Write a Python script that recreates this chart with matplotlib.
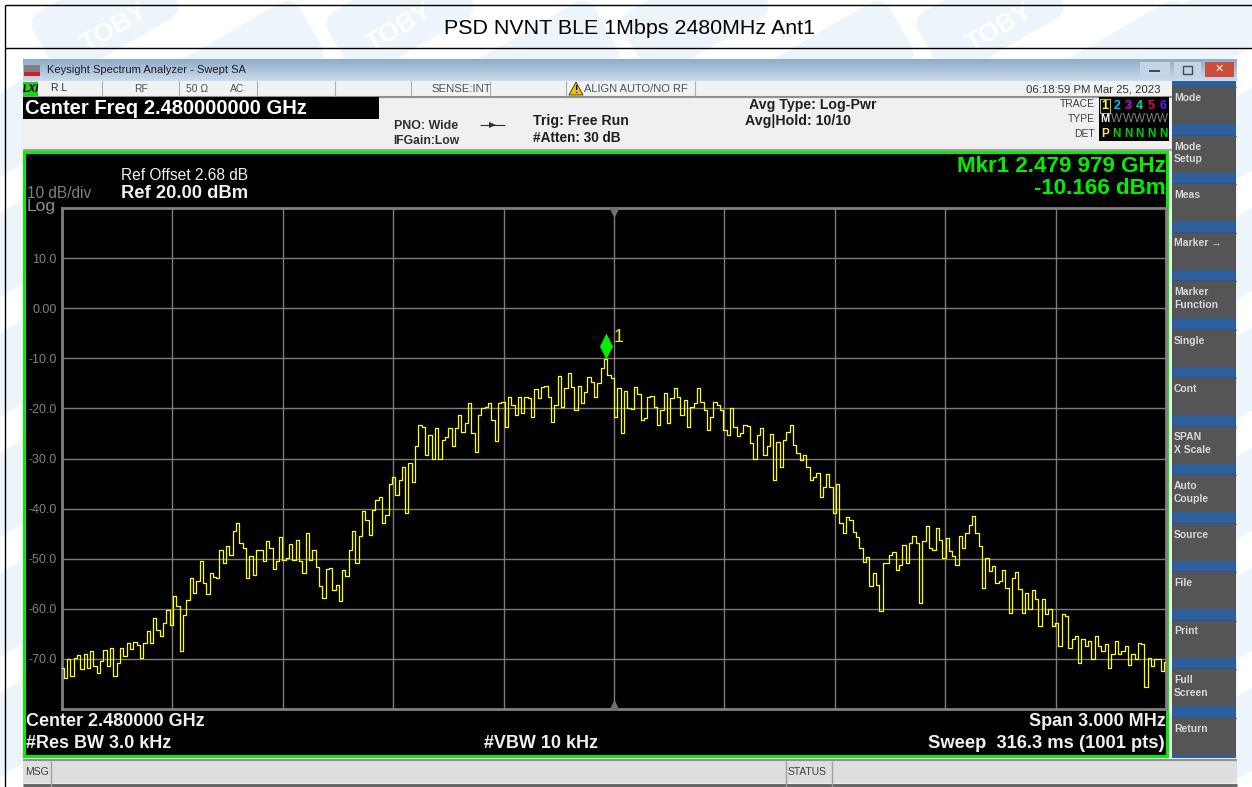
#! /usr/bin/env python3
# Spectrum analyzer screenshot: PSD of BLE 1Mbps at 2480 MHz
import matplotlib
matplotlib.use('Agg')
import matplotlib.pyplot as plt
from matplotlib.patches import Rectangle, Polygon, FancyBboxPatch
from matplotlib.path import Path
from matplotlib.transforms import Affine2D
import numpy as np

plt.rcParams['font.family'] = ['Liberation Sans', 'DejaVu Sans']

chart_title = 'PSD NVNT BLE 1Mbps 2480MHz Ant1'

center_ghz = 2.48
span_ghz = 0.003
ref_level = 20.0
db_per_div = 10.0
y_tick_labels = ['10.0', '0.00', '-10.0', '-20.0', '-30.0', '-40.0', '-50.0', '-60.0', '-70.0']
marker_ghz = 2.479979
marker_dbm = -10.166

# trace, about every third sweep point
trace_dbm = [
    -71.8, -73.8, -70.0, -73.5, -69.8, -69.2, -72.1, -69.1, -71.8, -68.5,
    -71.5, -72.8, -70.5, -68.3, -71.5, -67.8, -73.5, -70.8, -67.8, -69.5,
    -66.9, -68.1, -66.6, -67.3, -69.8, -66.8, -64.5, -66.8, -61.8, -64.2,
    -65.5, -62.8, -60.2, -63.2, -57.5, -59.5, -68.5, -61.2, -58.2, -53.8,
    -56.8, -54.5, -50.5, -54.8, -57.0, -52.8, -53.6, -53.8, -48.2, -50.8,
    -47.4, -49.2, -44.5, -42.9, -46.9, -47.9, -53.8, -49.5, -53.2, -48.2,
    -48.3, -50.5, -46.5, -47.9, -52.0, -50.5, -45.7, -50.2, -49.8, -47.0,
    -50.2, -46.3, -50.5, -52.8, -44.9, -50.2, -48.2, -51.6, -55.5, -57.8,
    -52.0, -51.8, -56.2, -55.2, -58.5, -52.3, -53.5, -48.2, -44.5, -50.8,
    -45.5, -40.5, -42.2, -45.2, -40.2, -38.3, -37.6, -42.9, -41.3, -35.0,
    -33.6, -37.3, -34.3, -31.6, -40.9, -30.8, -34.6, -27.6, -23.3, -23.7,
    -29.3, -25.3, -30.0, -24.0, -30.0, -26.4, -25.8, -24.0, -27.5, -24.0,
    -21.3, -24.7, -23.0, -19.0, -25.0, -28.8, -21.3, -20.0, -19.7, -19.0,
    -22.3, -26.6, -19.0, -18.7, -23.7, -17.7, -19.3, -21.3, -17.7, -21.0,
    -17.7, -18.0, -21.7, -16.1, -18.0, -15.7, -15.5, -17.7, -22.7, -19.3,
    -13.6, -19.7, -16.0, -13.0, -15.7, -20.3, -15.5, -19.0, -16.7, -13.8,
    -14.7, -17.8, -15.0, -12.0, -10.2, -13.4, -14.0, -21.7, -16.0, -25.0,
    -16.5, -20.0, -20.2, -15.7, -17.1, -22.3, -22.0, -17.8, -17.5, -19.8,
    -23.3, -20.3, -16.9, -23.0, -18.0, -16.0, -17.7, -21.3, -18.3, -23.7,
    -19.7, -19.0, -16.0, -18.7, -20.3, -24.3, -21.7, -18.7, -19.3, -20.3,
    -24.3, -25.3, -20.0, -23.7, -25.6, -25.0, -23.3, -23.5, -27.0, -30.0,
    -25.3, -24.0, -29.3, -27.6, -25.1, -34.3, -26.8, -31.6, -26.3, -24.7,
    -23.3, -27.3, -29.0, -30.3, -29.3, -31.6, -34.3, -33.6, -32.8, -37.6,
    -35.6, -33.0, -35.6, -40.9, -35.0, -42.9, -44.9, -41.6, -42.3, -44.6,
    -45.6, -47.9, -50.6, -49.7, -55.5, -52.9, -55.2, -60.5, -50.9, -50.9,
    -49.2, -48.7, -52.2, -51.2, -47.2, -50.8, -46.8, -45.5, -46.8, -58.8,
    -46.5, -43.5, -47.8, -48.2, -43.9, -46.2, -49.8, -45.8, -48.5, -49.5,
    -51.2, -45.5, -47.8, -44.9, -43.2, -41.4, -44.9, -47.5, -55.8, -49.8,
    -52.5, -51.5, -54.8, -54.5, -52.3, -55.8, -60.8, -53.8, -52.7, -56.1,
    -60.9, -56.8, -60.1, -56.3, -58.1, -63.5, -58.1, -61.1, -60.1, -63.5,
    -62.8, -67.4, -61.1, -61.5, -67.8, -66.1, -65.4, -70.8, -66.1, -67.4,
    -66.4, -70.1, -65.4, -67.4, -68.4, -67.1, -71.8, -69.1, -66.4, -69.1,
    -68.4, -67.4, -71.3, -69.1, -70.1, -66.9, -67.1, -75.7, -69.8, -71.4,
    -70.0, -70.1, -72.4, -70.6,
]

softkeys = [['Mode'], ['Mode', 'Setup'], ['Meas'], ['Marker \u2192'], ['Marker', 'Function'],
            ['Single'], ['Cont'], ['SPAN', 'X Scale'], ['Auto', 'Couple'], ['Source'],
            ['File'], ['Print'], ['Full', 'Screen'], ['Return']]
trace_digits = ['1', '2', '3', '4', '5', '6']
trace_colors = ['#ffff30', '#00c8f0', '#e000e0', '#00d8a0', '#f00050', '#5a20ff']

fig = plt.figure(figsize=(12.52, 7.87), dpi=100, facecolor='white')

# chrome is drawn in pixel coordinates of the screenshot
bg = fig.add_axes([0, 0, 1, 1], zorder=0)
bg.set_xlim(0, 1252)
bg.set_ylim(787, 0)
bg.axis('off')


def box(x0, y0, x1, y1, color, **kw):
    bg.add_patch(Rectangle((x0, y0), x1 - x0, y1 - y0, facecolor=color, edgecolor='none', **kw))


def hline(y, x0, x1, color='black', lw=1.0):
    bg.plot([x0, x1], [y, y], color=color, lw=lw, solid_capstyle='butt')


def vline(x, y0, y1, color='black', lw=1.0):
    bg.plot([x, x], [y0, y1], color=color, lw=lw, solid_capstyle='butt')


def txt(x, y, s, size=9, color='black', weight='normal', ha='left', **kw):
    bg.text(x, y, s, fontsize=size, color=color, fontweight=weight, ha=ha, va='center', **kw)


# watermark badges behind everything
for wx, wy in [(105, 15), (400, 15), (695, 15), (990, 15), (1235, 15),
               (250, 62), (545, 62), (840, 62), (1135, 62),
               (1250, 130), (1250, 250), (1250, 370), (1250, 490), (1250, 610), (1250, 730),
               (8, 130), (8, 250), (8, 370), (8, 490), (8, 610), (8, 730)]:
    rot = Affine2D().rotate_deg_around(wx, wy, -30) + bg.transData
    bg.add_patch(FancyBboxPatch((wx - 62, wy - 28), 124, 56, boxstyle='round,pad=8,rounding_size=16',
                                fc='#ecf5fb', ec='none', transform=rot, zorder=0.5))
for wx in [115, 400, 1000]:
    bg.text(wx, 28, 'TOBY', fontsize=19, color='white', fontweight='bold', rotation=30,
            ha='center', va='center', zorder=0.6)

# report table lines
hline(5, 5, 1252)
hline(48, 5, 1252)
vline(5, 5, 787)
txt(629, 28, chart_title, size=15.4, ha='center')

# window
box(23, 59, 1237, 787, '#f0f0f0', zorder=1)
grad = np.linspace(0, 1, 22)[:, None]
bg.imshow(grad, extent=(23, 1237, 81, 59), cmap=matplotlib.colors.LinearSegmentedColormap.from_list(
    'bar', ['#8facca', '#cbdbeb']), aspect='auto', zorder=1.1)
bg.set_xlim(0, 1252)
bg.set_ylim(787, 0)
box(24, 65, 40, 75, '#808080', zorder=2)
box(24, 72, 40, 76, '#d02030', zorder=2)
txt(47, 70, 'Keysight Spectrum Analyzer - Swept SA', size=8, color='#202020', zorder=3)
for x0, x1, col in [(1140, 1170, '#c4d4e6'), (1174, 1201, '#c4d4e6'), (1205, 1234, '#c8503c')]:
    box(x0, 62, x1, 77, col, zorder=2)
box(1149, 70, 1160, 72, '#404a58', zorder=3)
bg.add_patch(Rectangle((1183, 66), 9, 8, fc='none', ec='#404a58', lw=1.0, zorder=3))
txt(1219.5, 69, '\u2715', size=8, color='white', weight='bold', ha='center', zorder=3,
    family=['DejaVu Sans'])

# status row
box(23, 81, 1172, 97, '#f2f2f2', zorder=2)
hline(96.5, 23, 1172, '#909090', 1.5)
for sx in [102, 179, 257, 335, 411, 490, 566, 695]:
    vline(sx, 81, 96, '#b0b0b0', 0.8)
box(23, 82, 38, 96, '#20d020', zorder=3)
txt(30.5, 89, 'LXI', size=7.5, weight='bold', ha='center', style='italic', zorder=4)
txt(51, 88, 'R L', size=7.5, color='#303030', zorder=3)
txt(134, 89, 'RF', size=7.5, color='#505050', zorder=3)
txt(186, 89, '50 \u03a9', size=7.5, color='#505050', zorder=3)
txt(230, 89, 'AC', size=7.5, color='#505050', zorder=3)
txt(431, 89, 'SENSE:INT', size=8.2, color='#505050', zorder=3)
bg.add_patch(Polygon([[569, 95], [583, 95], [576, 82]], fc='#f0c000', ec='#403000', lw=0.6, zorder=3))
txt(576, 90, '!', size=7, weight='bold', ha='center', zorder=4)
txt(584, 89, 'ALIGN AUTO/NO RF', size=8, color='#505050', zorder=3)
txt(1161, 89, '06:18:59 PM Mar 25, 2023', size=8.2, color='#303030', ha='right', zorder=3)

# settings panel
box(23, 97, 379, 119, 'black', zorder=2)
txt(25, 108, 'Center Freq 2.480000000 GHz', size=14.5, color='white', weight='bold', zorder=3)
txt(426, 126, 'PNO: Wide', size=8.9, color='#303030', weight='bold', ha='center', zorder=3)
txt(426, 141, 'IFGain:Low', size=8.7, color='#303030', weight='bold', ha='center', zorder=3)
hline(125, 480, 505, '#303030', 0.8)
bg.add_patch(Polygon([[489, 122], [489, 128], [496, 125]], fc='#303030', ec='none', zorder=3))
txt(533, 121, 'Trig: Free Run', size=10.2, color='#202020', weight='bold', zorder=3)
txt(533, 138, '#Atten: 30 dB', size=9.8, color='#202020', weight='bold', zorder=3)
txt(749, 105, 'Avg Type: Log-Pwr', size=10.2, color='#202020', weight='bold', zorder=3)
txt(745, 121, 'Avg|Hold: 10/10', size=10.2, color='#202020', weight='bold', zorder=3)
txt(1095, 104, 'TRACE', size=7.5, color='#404040', ha='right', zorder=3)
txt(1095, 119, 'TYPE', size=7.5, color='#404040', ha='right', zorder=3)
txt(1095, 134, 'DET', size=7.5, color='#404040', ha='right', zorder=3)
box(1099, 97, 1169, 141, 'black', zorder=2)
bg.add_patch(Rectangle((1100, 99), 10, 14, fc='none', ec='#c0c060', lw=0.8, zorder=3))
for k, dig in enumerate(trace_digits):
    dx = 1105 + 11.6 * k
    txt(dx, 106, dig, size=9, color=trace_colors[k], weight='bold', ha='center', zorder=4)
    txt(dx, 119.5, 'M' if k == 0 else 'W', size=8 if k == 0 else 8.5, ha='center',
        weight='bold' if k == 0 else 'normal', color='white' if k == 0 else '#808080', zorder=4)
    txt(dx, 134, 'P' if k == 0 else 'N', size=8.5, weight='bold', ha='center',
        color='#ffe080' if k == 0 else '#00d000', zorder=4)

# screen frame
box(23, 151, 1169, 758, '#00f000', zorder=2)
box(26, 154, 1166, 755, 'black', zorder=2.1)
hline(150, 23, 1172, '#a0a0a0', 1.5)
txt(121, 176, 'Ref Offset 2.68 dB', size=11.2, color='#f0f0f0', zorder=3)
txt(121, 193, 'Ref 20.00 dBm', size=13.2, color='#f0f0f0', weight='bold', zorder=3)
txt(27, 194, '10 dB/div', size=11.2, color='#808080', zorder=3)
txt(27, 207, 'Log', size=12.5, color='#909090', zorder=3)
txt(1166, 166, 'Mkr1 2.479 979 GHz', size=16.1, color='#00f000', weight='bold', ha='right', zorder=3)
txt(1166, 188, '-10.166 dBm', size=16.1, color='#00f000', weight='bold', ha='right', zorder=3)
txt(26, 722, 'Center 2.480000 GHz', size=13, color='#f0f0f0', weight='bold', zorder=3)
txt(26, 743, '#Res BW 3.0 kHz', size=13, color='#f0f0f0', weight='bold', zorder=3)
txt(484, 743, '#VBW 10 kHz', size=13, color='#f0f0f0', weight='bold', zorder=3)
txt(1166, 722, 'Span 3.000 MHz', size=13, color='#f0f0f0', weight='bold', ha='right', zorder=3)
txt(1165, 743, 'Sweep  316.3 ms (1001 pts)', size=13.2, color='#f0f0f0', weight='bold', ha='right', zorder=3)

# softkeys
box(1172, 81, 1236, 758, '#2d5f9c', zorder=2)
for k, lines in enumerate(softkeys):
    top = 87 + 48.5 * k
    box(1172, top, 1236, top + 37, '#555555', zorder=2.5)
    hline(top, 1172, 1236, '#303030', 1.0)
    for j, line in enumerate(lines):
        txt(1174, top + 11 + 12.5 * j, line, size=7.5, color='#d8d8d8', weight='bold', zorder=3)

# message bar
box(23, 761, 1237, 783, '#dedede', zorder=2)
hline(760, 23, 1237, '#909090', 1.5)
hline(784.5, 23, 1237, '#606060', 2.0)
vline(51, 761, 787, '#a0a0a0', 1.0)
vline(786, 761, 787, '#a0a0a0', 1.0)
vline(832, 761, 787, '#a0a0a0', 1.0)
txt(25, 772, 'MSG', size=7.5, color='#404040', zorder=3)
txt(788, 772, 'STATUS', size=7.5, color='#404040', zorder=3)

# the measurement itself, on real axes
ax = fig.add_axes([62 / 1252, 1 - 709 / 787, 1104 / 1252, 501 / 787], zorder=5)
ax.set_facecolor('black')
freq = np.linspace(center_ghz - span_ghz / 2, center_ghz + span_ghz / 2, len(trace_dbm))
ax.set_xlim(center_ghz - span_ghz / 2, center_ghz + span_ghz / 2)
ax.set_ylim(ref_level - 10 * db_per_div, ref_level)
ax.set_xticks(center_ghz + span_ghz * (np.arange(1, 10) - 5) / 10)
ax.set_yticks(ref_level - db_per_div * np.arange(1, 10))
ax.set_xticklabels([])
ax.set_yticklabels(y_tick_labels, fontsize=9, color='#808080')
ax.tick_params(length=0, pad=4)
ax.grid(color='#7c7c7c', lw=1.0)
ax.set_axisbelow(True)
for sp in ax.spines.values():
    sp.set_color('#808080')
    sp.set_linewidth(2.0)
ax.plot(freq, trace_dbm, color='#ffff00', lw=0.9, drawstyle='steps-mid', zorder=3)
ax.plot([center_ghz], [ref_level - 0.7], marker='v', ms=6, color='#707070', clip_on=False, zorder=4)
ax.plot([center_ghz], [ref_level - 99.3], marker='^', ms=6, color='#707070', clip_on=False, zorder=4)
diamond = Path([(0, 0), (-6.5, 13), (0, 26), (6.5, 13), (0, 0)], closed=True)
ax.plot([marker_ghz], [marker_dbm], marker=diamond, ms=37.4, color='#00f000', mew=0, zorder=5)
ax.annotate('1', (marker_ghz, marker_dbm), xytext=(5, 12), textcoords='offset points',
            color='#f0f000', fontsize=13, zorder=5)

fig.savefig('out.png', dpi=100, facecolor='white')
